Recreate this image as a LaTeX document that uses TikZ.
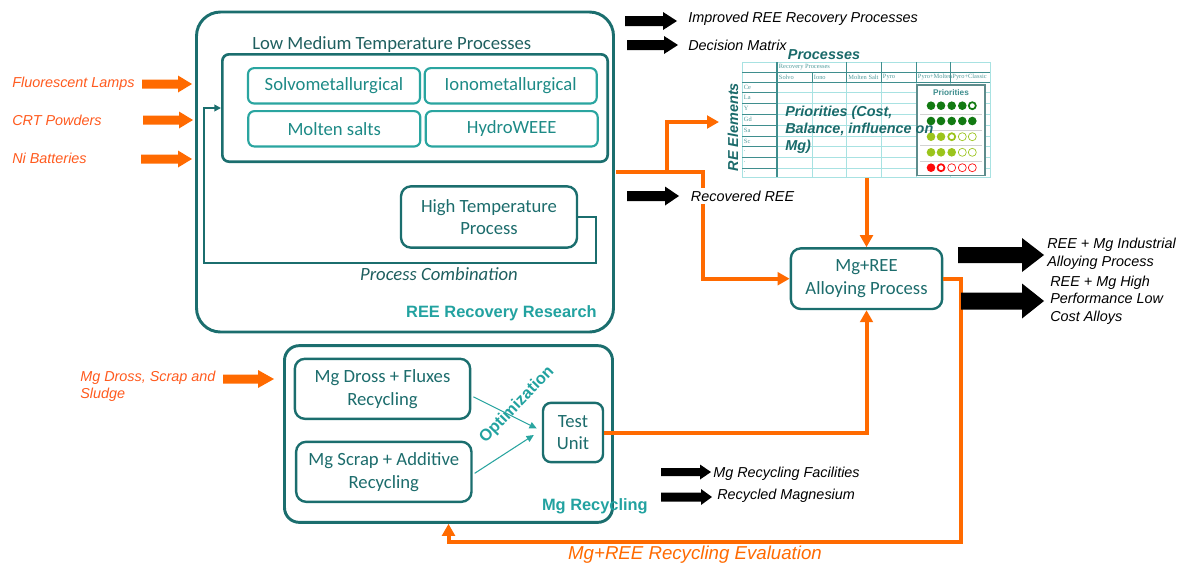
\documentclass[tikz,border=0pt]{standalone}
\usepackage{fontspec}
\setmainfont{Carlito}
\newfontfamily\arial{Liberation Sans}
\newfontfamily\tnr{Liberation Serif}
\usetikzlibrary{arrows.meta,calc}

\definecolor{tealdark}{HTML}{1B6E6E}
\definecolor{teallight}{HTML}{2AA5A0}
\definecolor{tealtext}{HTML}{1D8A86}
\definecolor{tealbold}{HTML}{22A2A0}
\definecolor{tealgray}{HTML}{1F5F5F}
\definecolor{boxtext}{HTML}{1C6C6C}
\definecolor{orangeline}{HTML}{FF6A00}
\definecolor{orangetext}{HTML}{FF5A1E}
\definecolor{gridlt}{HTML}{A8E2E2}
\definecolor{griddk}{HTML}{3F8E8E}
\definecolor{gridtext}{HTML}{4F9A9A}
\definecolor{prioborder}{HTML}{5E8C8C}
\definecolor{priotext}{HTML}{1A6A6A}
\definecolor{dkgreen}{HTML}{127A12}
\definecolor{lime}{HTML}{9BC41C}
\definecolor{redc}{HTML}{FF0A0A}

\newcommand{\blkarrow}[7]{%
  \fill[#1] (#2,#4-#5) -- (#3-#7,#4-#5) -- (#3-#7,#4-#6) -- (#3,#4)
    -- (#3-#7,#4+#6) -- (#3-#7,#4+#5) -- (#2,#4+#5) -- cycle;}
\newcommand{\fdot}[3]{\fill[#3] (#1,#2) circle[radius=4.3];}
\newcommand{\tring}[3]{\draw[#3, line width=1.3pt, fill=white] (#1,#2) circle[radius=3.5];}
\newcommand{\nring}[3]{\draw[#3, line width=0.5pt, fill=white] (#1,#2) circle[radius=4];}

\begin{document}
\begin{tikzpicture}[x=0.75pt,y=-0.75pt,
  bigbox/.style={draw=tealdark, line width=2.2pt, inner sep=0pt},
  procbox/.style={draw=teallight, line width=1.6pt, rounded corners=4.5pt, text=tealtext,
    font=\fontsize{14}{17}\selectfont, inner sep=0pt, minimum width=129pt, minimum height=26.5pt},
  tbox/.style={draw=tealdark, line width=1.8pt, rounded corners=7.5pt, text=boxtext,
    font=\fontsize{14}{17}\selectfont, align=center, inner sep=0pt},
  lbl/.style={font=\arial\itshape\fontsize{10.8}{13.5}\selectfont, align=left, inner sep=0pt},
  inlbl/.style={lbl, text=orangetext},
  boldlbl/.style={font=\arial\bfseries\fontsize{12.3}{14}\selectfont, text=tealbold, inner sep=0pt},
  oarrow/.style={draw=orangeline, line width=3pt, -{Triangle[width=9.5pt,length=9pt]}},
  tconn/.style={draw=tealdark, line width=1.4pt, -{Triangle[width=5pt,length=5pt]}},
  thinarr/.style={draw=teallight, line width=0.8pt, -{Triangle[width=5pt,length=5.5pt]}},
  gl/.style={draw=gridlt, line width=0.6pt},
  gd/.style={draw=griddk, line width=0.7pt},
  tinytxt/.style={font=\tnr\fontsize{4.8}{5}\selectfont, text=gridtext, inner sep=0.5pt, anchor=west},
  ttl/.style={font=\arial\bfseries\itshape\fontsize{10.8}{12.75}\selectfont, text=priotext, inner sep=0pt}
]
\useasboundingbox (0,0) rectangle (1187,568);

% ---------- REE Recovery Research ----------
\node[bigbox, rounded corners=18pt, minimum width=312.75pt, minimum height=240pt] (reebox) at (405,172) {};
\node[boldlbl, anchor=east] (reelbl) at (597,313) {REE Recovery Research};
\node[font=\fontsize{14}{17}\selectfont, text=tealgray, anchor=west, inner sep=0pt] (lmtlbl) at (252,45) {Low Medium Temperature Processes};
\node[draw=tealdark, line width=2pt, rounded corners=5pt, minimum width=289pt, minimum height=80.5pt, inner sep=0pt] (lmt) at (415,108) {};
\node[procbox] (solvo) at (334,85.8) {Solvometallurgical};
\node[procbox] (iono) at (510.7,85.8) {Ionometallurgical};
\node[procbox] (molten) at (334.3,128.8) {Molten salts};
\node[procbox] (hydro) at (511.7,128.8) {HydroWEEE};
\node[tbox, rounded corners=7.5pt, minimum width=132pt, minimum height=46pt] (htp) at (489,217) {High Temperature\\Process};
\draw[tconn] (htp.east) -| (596,263) -| (204,108) -- (lmt.west);
\node[font=\itshape\fontsize{14}{17}\selectfont, text=tealgray, inner sep=0pt] (pc) at (439,274) {Process Combination};

% ---------- inputs ----------
\node[inlbl, anchor=west] (fl) at (12,84) {Fluorescent Lamps};
\blkarrow{orangeline}{142}{192}{84}{4.5}{8.5}{14}
\node[inlbl, anchor=west] (crt) at (12,120) {CRT Powders};
\blkarrow{orangeline}{143}{193}{120}{4.5}{8.5}{14}
\node[inlbl, anchor=west] (nib) at (12,158) {Ni Batteries};
\blkarrow{orangeline}{141}{192}{159}{4.5}{8.5}{14}

% ---------- outputs top ----------
\blkarrow{black}{625}{677}{21}{5}{9}{14}
\node[lbl, anchor=west] (irp) at (688,19) {Improved REE Recovery Processes};
\blkarrow{black}{627}{678}{45}{5}{9}{14}
\node[lbl, anchor=west] (dm) at (688,45) {Decision Matrix};

% ---------- decision matrix table ----------
\draw[gl] (742,62) rectangle (990,177.3);
\foreach \y in {92.3,103,114,125,136,146.7,157.3,168.3} {
  \draw[gl] (777,\y) -- (990,\y);
  \draw[gd] (742,\y) -- (777,\y);
}
\foreach \x in {812,846.7,881,916,950.7} {\draw[gl] (\x,82.3) -- (\x,177.3);}
\foreach \x in {846.7,881,916,950.7} {\draw[gd] (\x,62) -- (\x,82.3);}
\draw[gd] (812,72.3) -- (812,82.3);
\draw[gd] (742,72.3) -- (990,72.3);
\draw[gd] (742,82.3) -- (990,82.3);
\draw[gd, line width=1.1pt] (777,62) -- (777,177.3);
\node[tinytxt] (hdr) at (778,67.3) {Recovery Processes};
\foreach \t/\x in {Solvo/778,Iono/813,Molten Salt/847.5,Pyro/882,Pyro+Molten/917,Pyro+Classic/951.5}
  {\node[tinytxt] at (\x,77.3) {\t};}
\foreach \t/\y in {Ce/87.3,La/97.7,Y/108.5,Gd/119.5,Sa/130.5,Sc/141.3,./151.5,./162.3,./172.3}
  {\node[tinytxt] at (743,\y) {\t};}

% priorities box
\draw[draw=prioborder, line width=0.8pt, fill=white] (917,85) rectangle (985,175.5);
\foreach \y in {114,130,145.7,161} {\draw[draw=gray!35, line width=0.5pt] (920,\y) -- (982,\y);}
\node[font=\arial\bfseries\fontsize{6.2}{7}\selectfont, text=griddk, inner sep=0pt] (priot) at (951,92.5) {Priorities};
\foreach \x in {931,941,951.7,962.3} {\fdot{\x}{105.7}{dkgreen}}
\tring{972.3}{105.7}{dkgreen}
\foreach \x in {931,941,951.7,962.3,972.3} {\fdot{\x}{121}{dkgreen}}
\foreach \x in {931,941} {\fdot{\x}{136.7}{lime}}
\tring{951.7}{136.7}{lime}
\foreach \x in {962.3,972.3} {\nring{\x}{136.7}{lime}}
\foreach \x in {931,941,951.7} {\fdot{\x}{152.3}{lime}}
\foreach \x in {962.3,972.3} {\nring{\x}{152.3}{lime}}
\fdot{931}{167.7}{redc}
\tring{941}{167.7}{redc}
\foreach \x in {951.7,962.3,972.3} {\nring{\x}{167.7}{redc}}

\node[ttl] (proc) at (824,55) {Processes};
\node[ttl, rotate=90] (reel) at (733,127) {RE Elements};
\node[ttl, align=left, anchor=west] (prio) at (785,130) {Priorities (Cost,\\Balance, influence on\\Mg)};

% ---------- alloying ----------
\node[tbox, minimum width=113.5pt, minimum height=45.5pt] (mgree) at (866.5,278.7) {Mg+REE\\Alloying Process};
\coordinate (tblin) at (719,122);
\coordinate (tblout) at (866.5,177.8);
\draw[oarrow] ($(reebox.east)+(1.5,0)$) -- (667,172) |- (tblin);
\draw[oarrow] ($(reebox.east)+(1.5,0)$) -- (703,172) |- (mgree.west);
\draw[oarrow] (tblout) -- (mgree.north);
\blkarrow{black}{627}{679}{196}{5}{9.5}{14}
\node[lbl, fill=white, inner sep=2pt, anchor=west] (rree) at (688,196) {Recovered REE};

% ---------- Mg recycling ----------
\node[bigbox, rounded corners=11pt, minimum width=246pt, minimum height=132.5pt] (mgbox) at (448.5,434) {};
\node[tbox, minimum width=131.5pt, minimum height=45pt] (dross) at (382.5,388.8) {Mg Dross + Fluxes\\Recycling};
\node[tbox, minimum width=131.5pt, minimum height=45pt] (scrap) at (383.8,471.8) {Mg Scrap + Additive\\Recycling};
\node[tbox, rounded corners=6pt, minimum width=45pt, minimum height=44.5pt] (test) at (573,432.5) {Test\\Unit};
\node[boldlbl, rotate=46] (opt) at (517,405) {Optimization};
\draw[thinarr] ($(dross.east)+(2,8)$) -- ($(test.west)+(-5,-4)$);
\draw[thinarr] ($(scrap.east)+(2,1.5)$) -- ($(test.west)+(-8,2.5)$);
\node[boldlbl, anchor=east] (mglbl) at (648,506) {Mg Recycling};

\node[inlbl, anchor=west, font=\arial\itshape\fontsize{10.8}{12.75}\selectfont] (mgin) at (80,386) {Mg Dross, Scrap and\\Sludge};
\blkarrow{orangeline}{223}{274}{379}{4.5}{9}{16}

\draw[oarrow] (test.east) -| (mgree.south);
\draw[oarrow] (mgree.east) -| (961,542) -| (mgbox.south);
\node[font=\arial\itshape\fontsize{14}{16}\selectfont, text=orangeline, inner sep=0pt] (eval) at (695,555) {Mg+REE Recycling Evaluation};

% ---------- outputs right ----------
\blkarrow{black}{958}{1044}{255}{8}{17}{22}
\node[lbl, anchor=west] (ind) at (1047,254) {REE + Mg Industrial\\Alloying Process};
\blkarrow{black}{961}{1044}{301}{8.5}{17.5}{22}
\node[lbl, anchor=west, font=\arial\itshape\fontsize{10.8}{13.1}\selectfont] (hp) at (1050,300) {REE + Mg High\\Performance Low\\Cost Alloys};

% ---------- outputs bottom ----------
\blkarrow{black}{661}{711}{472}{4}{7.5}{11}
\node[lbl, anchor=west] (mrf) at (713,474) {Mg Recycling Facilities};
\blkarrow{black}{661}{712}{497}{4.5}{8}{11}
\node[lbl, anchor=west] (rm) at (717,496) {Recycled Magnesium};
\end{tikzpicture}
\end{document}
